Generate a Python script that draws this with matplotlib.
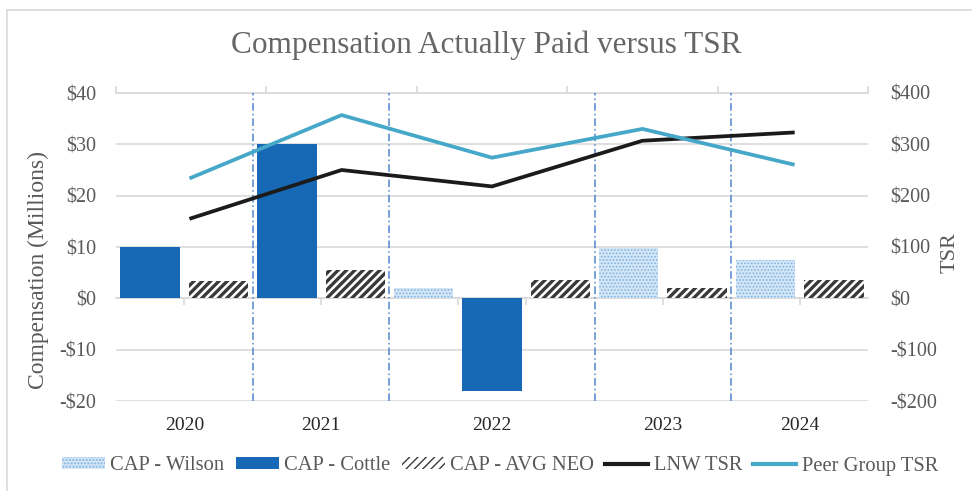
import matplotlib.pyplot as plt
from matplotlib.patches import Patch
from matplotlib.lines import Line2D

plt.rcParams['font.family'] = ['Liberation Serif', 'DejaVu Serif']

# data
years = ['2020', '2021', '2022', '2023', '2024']
cap_wilson = [None, None, 2.1, 9.8, 7.4]      # $M
cap_cottle = [10.0, 30.0, -18.0, None, None]  # $M
cap_neo = [3.3, 5.5, 3.6, 2.1, 3.5]           # $M
lnw_tsr = [156, 250, 218, 307, 323]
peer_tsr = [235, 357, 274, 330, 261]

comp_ticks = [-20, -10, 0, 10, 20, 30, 40]
tsr_ticks = [-200, -100, 0, 100, 200, 300, 400]

# colours
c_cottle = '#1769b6'
c_wilson_face = '#d4e5f6'
c_wilson_dots = '#7fb3e3'
c_neo = '#3a3a3a'
c_lnw = '#1b1b1b'
c_peer = '#45a8c8'
c_grid = '#d9d9d9'
c_text = '#595959'


def money(v):
    return f'${v}' if v >= 0 else f'-${-v}'


# one slot per bar, grouped by year
slots = []
groups = []
for i, y in enumerate(years):
    start = len(slots)
    if cap_wilson[i] is not None:
        slots.append(('wilson', cap_wilson[i]))
    if cap_cottle[i] is not None:
        slots.append(('cottle', cap_cottle[i]))
    slots.append(('neo', cap_neo[i]))
    groups.append((start, len(slots)))
n = len(slots)

fig = plt.figure(figsize=(9.72, 4.91), dpi=100)
ax = fig.add_axes([116 / 972, 1 - 401 / 491, 752 / 972, 308 / 491])
ax2 = ax.twinx()

for k, (kind, v) in enumerate(slots):
    x = k + 0.5
    if kind == 'cottle':
        ax.bar(x, v, width=0.87, color=c_cottle, zorder=3)
    elif kind == 'wilson':
        with plt.rc_context({'hatch.linewidth': 0.8}):
            ax.bar(x, v, width=0.87, facecolor=c_wilson_face,
                   edgecolor=c_wilson_dots, hatch='.....', lw=0, zorder=3)
    else:
        with plt.rc_context({'hatch.linewidth': 2.4}):
            ax.bar(x, v, width=0.87, facecolor='white', edgecolor=c_neo,
                   hatch='////', lw=0, zorder=3)

# dash-dot separators between years
for s, e in groups[:-1]:
    ax.axvline(e, color='#4f86d0', lw=1.1, ls=(0, (5, 2, 1, 2)), zorder=4)

ax.set_xlim(0, n)
ax.set_ylim(-20, 40)
ax.set_yticks(comp_ticks)
ax.set_yticklabels([money(v) for v in comp_ticks])
ax.yaxis.grid(True, color=c_grid, lw=1.2, zorder=0)
ax.set_axisbelow(True)
for sp in ['top', 'left', 'right']:
    ax.spines[sp].set_visible(False)
ax.spines['bottom'].set_position(('data', 0))
ax.spines['bottom'].set_color(c_grid)
ax.spines['bottom'].set_linewidth(1.2)
ax.set_xticks([1, 3, 5, 6, 8, 10])
ax.tick_params(axis='x', length=5, color=c_grid, width=1.2, labelbottom=False)
ax.tick_params(axis='y', length=0, pad=14, labelsize=14.5, labelcolor=c_text)

for i, (s, e) in enumerate(groups):
    ax.text((s + e) / 2, -0.078, years[i], transform=ax.get_xaxis_transform(),
            ha='center', va='center', fontsize=14, color='#262626')

# top category axis for the TSR lines
step = n / len(years)
top = ax.secondary_xaxis('top')
top.set_xticks([step * i for i in range(len(years) + 1)])
top.tick_params(length=5, color=c_grid, width=1.2, labeltop=False)
top.spines['top'].set_color(c_grid)
top.spines['top'].set_linewidth(1.2)

lx = [step * (i + 0.5) for i in range(len(years))]
ax2.plot(lx, lnw_tsr, color=c_lnw, lw=2.7, solid_joinstyle='miter', zorder=5)
ax2.plot(lx, peer_tsr, color=c_peer, lw=2.7, solid_joinstyle='miter', zorder=5)
ax2.set_ylim(-200, 400)
ax2.set_yticks(tsr_ticks)
ax2.set_yticklabels([money(v) for v in tsr_ticks])
ax2.tick_params(axis='y', length=0, pad=16, labelsize=14.5, labelcolor=c_text)
for sp in ax2.spines.values():
    sp.set_visible(False)

fig.text(38 / 972, 1 - 270 / 491, 'Compensation (Millions)', rotation=90,
         ha='center', va='center', fontsize=17, color=c_text)
fig.text(950 / 972, 1 - 253 / 491, 'TSR', rotation=90,
         ha='center', va='center', fontsize=16, color=c_text)
fig.text(0.5, 1 - 45 / 491, 'Compensation Actually Paid versus TSR',
         ha='center', va='center', fontsize=22.5, color='#666666')

# legend
with plt.rc_context({'hatch.linewidth': 0.8}):
    h_wilson = Patch(facecolor=c_wilson_face, edgecolor=c_wilson_dots,
                     hatch='.....', lw=0)
h_cottle = Patch(facecolor=c_cottle, lw=0)
with plt.rc_context({'hatch.linewidth': 2.4}):
    h_neo = Patch(facecolor='white', edgecolor=c_neo, hatch='////', lw=0)
handles = [h_wilson, h_cottle, h_neo,
           Line2D([], [], color=c_lnw, lw=3),
           Line2D([], [], color=c_peer, lw=3)]
labels = ['CAP - Wilson', 'CAP - Cottle', 'CAP - AVG NEO', 'LNW TSR',
          'Peer Group TSR']
fig.legend(handles, labels, loc='center', bbox_to_anchor=(500 / 972, 1 - 466 / 491),
           ncol=5, frameon=False, fontsize=14.8, labelcolor=c_text,
           handlelength=2.1, handleheight=0.55, handletextpad=0.25,
           columnspacing=0.55, borderpad=0)

# outer frame (top and left edges only are visible)
fig.add_artist(Line2D([7 / 972, 1], [1 - 9.5 / 491, 1 - 9.5 / 491],
                      color=c_grid, lw=1.2, transform=fig.transFigure))
fig.add_artist(Line2D([7 / 972, 7 / 972], [0, 1 - 9.5 / 491],
                      color=c_grid, lw=1.2, transform=fig.transFigure))

fig.savefig('out.png', dpi=100)
